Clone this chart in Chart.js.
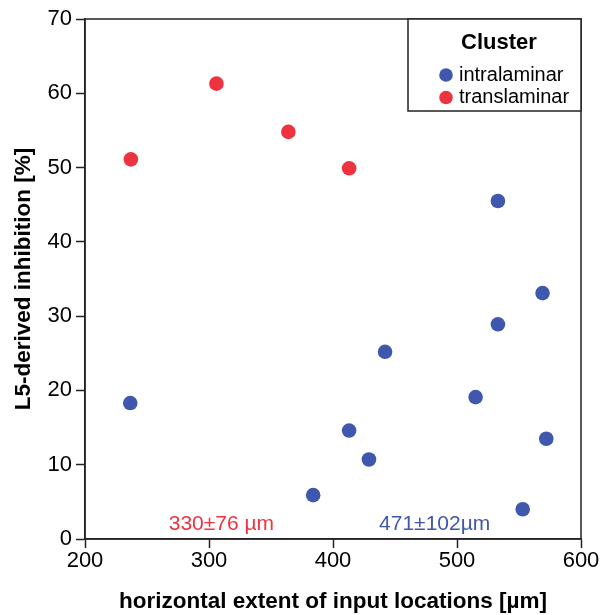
<!DOCTYPE html>
<html>
<head>
<meta charset="utf-8">
<script src="https://cdn.jsdelivr.net/npm/chart.js@4.4.1/dist/chart.umd.min.js"></script>
<style>
  html, body { margin: 0; padding: 0; background: #fff; }
  #wrap { width: 602px; height: 615px; }
</style>
</head>
<body>
<div id="wrap"><canvas id="scatter"></canvas></div>
<script>
// cluster points: [horizontal extent (um), L5-derived inhibition (%)]
const intralaminar = [
  [236.5, 18.3], [384, 5.9], [413, 14.6], [429, 10.7], [442, 25.2], [515, 19.1],
  [533, 45.5], [533, 28.9], [569, 33.1], [572, 13.5], [553, 4.0]
];
const translaminar = [
  [237, 51.1], [306, 61.3], [364, 54.8], [413, 49.9]
];
const xTicks = [200, 300, 400, 500, 600];
const yTicks = [0, 10, 20, 30, 40, 50, 60, 70];

// group summaries written under the points
const summaries = [
  { text: "330\u00b176 \u00b5m", x: 310, y: 2.0, color: "#ee3340" },
  { text: "471\u00b1102\u00b5m", x: 482, y: 2.0, color: "#3f58ad" }
];

const BLUE = "#3f58ad";
const RED = "#ee3340";
const FONT = "'Liberation Sans', Arial, sans-serif";

const toPoints = arr => arr.map(p => ({ x: p[0], y: p[1] }));

// frame around the plot, summaries and the cluster legend box
const framePlugin = {
  id: "frame",
  afterDraw(chart) {
    const { ctx, chartArea: a, scales } = chart;
    ctx.save();
    ctx.strokeStyle = "#222";
    ctx.lineWidth = 1.5;
    ctx.strokeRect(a.left, a.top, a.right - a.left, a.bottom - a.top);

    ctx.font = "21px " + FONT;
    ctx.textAlign = "center";
    ctx.textBaseline = "middle";
    summaries.forEach(s => {
      ctx.fillStyle = s.color;
      ctx.fillText(s.text, scales.x.getPixelForValue(s.x), scales.y.getPixelForValue(s.y));
    });

    // legend box in the top right corner
    const bx = 408, by = a.top, bw = a.right - 408, bh = 92;
    ctx.fillStyle = "#fff";
    ctx.fillRect(bx, by, bw, bh);
    ctx.strokeRect(bx, by, bw, bh);
    ctx.fillStyle = "#000";
    ctx.font = "bold 22px " + FONT;
    ctx.fillText("Cluster", 499, by + 24);
    ctx.font = "20px " + FONT;
    ctx.textAlign = "left";
    chart.data.datasets.forEach((ds, i) => {
      const cy = by + 56 + i * 22.5;
      ctx.fillStyle = ds.backgroundColor;
      ctx.beginPath();
      ctx.arc(bx + 38, cy, 6.8, 0, Math.PI * 2);
      ctx.fill();
      ctx.fillStyle = "#000";
      ctx.fillText(ds.label, bx + 51, cy);
    });
    ctx.restore();
  }
};

const ctx = document.getElementById("scatter").getContext("2d");
new Chart(ctx, {
  type: "scatter",
  data: {
    datasets: [
      { label: "intralaminar", data: toPoints(intralaminar), backgroundColor: BLUE, borderWidth: 0, pointRadius: 7.3 },
      { label: "translaminar", data: toPoints(translaminar), backgroundColor: RED, borderWidth: 0, pointRadius: 7.3 }
    ]
  },
  options: {
    responsive: true,
    maintainAspectRatio: false,
    animation: false,
    layout: { padding: { top: 19, right: 21, left: 0, bottom: 0 } },
    plugins: {
      legend: { display: false },
      tooltip: { enabled: false }
    },
    scales: {
      x: {
        type: "linear",
        min: 200,
        max: 600,
        afterBuildTicks: s => { s.ticks = xTicks.map(v => ({ value: v })); },
        afterFit: s => { s.height = 76; },
        grid: { drawOnChartArea: false, drawTicks: true, tickLength: 9, tickColor: "#222", tickWidth: 1.5 },
        border: { display: true, color: "#222", width: 1.5 },
        ticks: { color: "#000", font: { family: FONT, size: 22 }, padding: 0, maxRotation: 0 },
        title: {
          display: true,
          text: "horizontal extent of input locations [\u00b5m]",
          color: "#000",
          font: { family: FONT, size: 22.5, weight: "bold" },
          padding: { top: 4, bottom: 0 }
        }
      },
      y: {
        type: "linear",
        min: 0,
        max: 70,
        afterBuildTicks: s => { s.ticks = yTicks.map(v => ({ value: v })); },
        afterFit: s => { s.width = 85; },
        grid: { drawOnChartArea: false, drawTicks: true, tickLength: 9, tickColor: "#222", tickWidth: 1.5 },
        border: { display: true, color: "#222", width: 1.5 },
        ticks: { color: "#000", font: { family: FONT, size: 22 }, padding: 4 },
        title: {
          display: true,
          text: "L5-derived inhibition [%]",
          color: "#000",
          font: { family: FONT, size: 22.5, weight: "bold" },
          padding: { top: 10, bottom: 4 }
        }
      }
    }
  },
  plugins: [framePlugin]
});
</script>
</body>
</html>
